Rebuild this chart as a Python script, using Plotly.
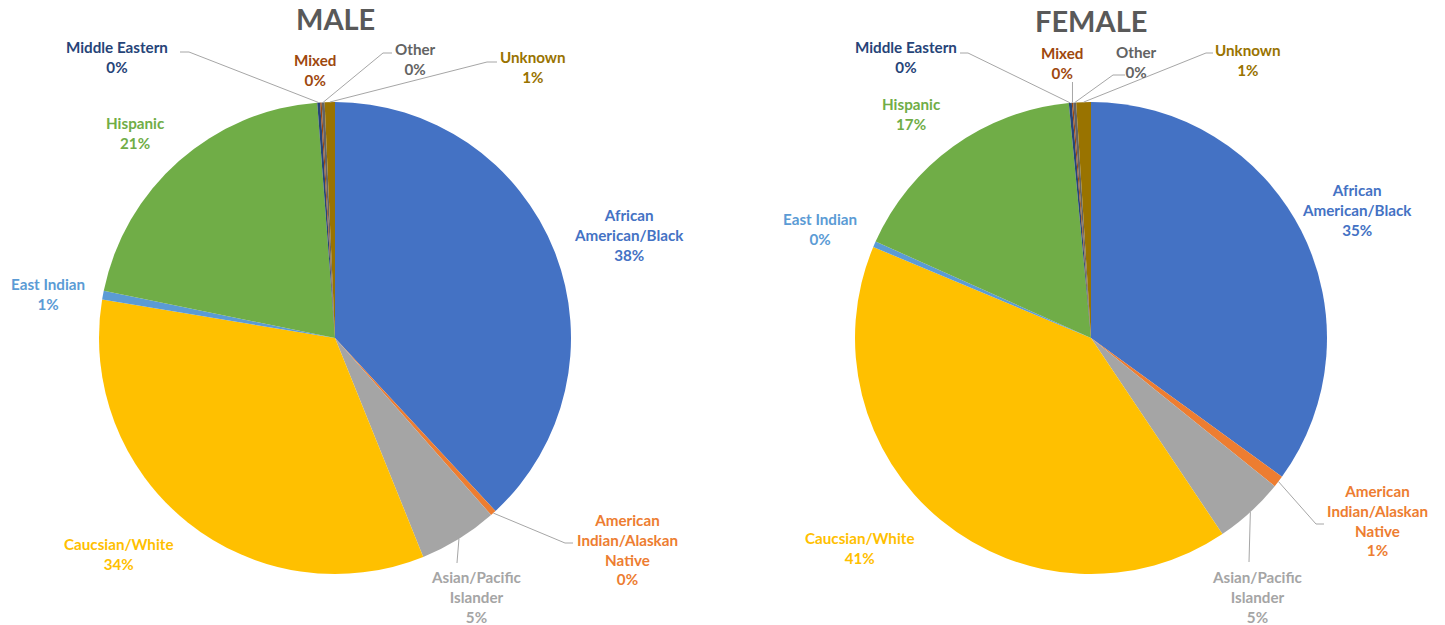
import math
import plotly.graph_objects as go

# ---------------- data ----------------
categories = [
    "African American/Black",
    "American Indian/Alaskan Native",
    "Asian/Pacific Islander",
    "Caucsian/White",
    "East Indian",
    "Hispanic",
    "Middle Eastern",
    "Mixed",
    "Other",
    "Unknown",
]
label_lines = [
    "African<br>American/Black",
    "American<br>Indian/Alaskan<br>Native",
    "Asian/Pacific<br>Islander",
    "Caucsian/White",
    "East Indian",
    "Hispanic",
    "Middle Eastern",
    "Mixed",
    "Other",
    "Unknown",
]
male_values = [38.1, 0.4, 5.4, 33.7, 0.6, 20.6, 0.2, 0.1, 0.2, 0.7]
female_values = [35.0, 0.8, 4.8, 40.7, 0.4, 16.8, 0.2, 0.1, 0.2, 1.0]
chart_titles = ["MALE", "FEMALE"]

# ---------------- style / layout ----------------
colors = ["#4472C4", "#ED7D31", "#A5A5A5", "#FFC000", "#5B9BD5",
          "#70AD47", "#264478", "#9E480E", "#636363", "#997300"]
W, H = 1445, 625
FONT = "Lato, Carlito, Calibri, sans-serif"
LEADER = "#A6A6A6"

pie_geom = [dict(cx=335, cy=338, r=236, ty=19),
            dict(cx=1091, cy=338, r=236, ty=20)]

# label text centres (pixels)
label_pos = [
    {0: (629, 235), 1: (627, 549), 2: (476, 597), 3: (119, 554), 4: (48, 294),
     5: (135, 133), 6: (117, 57), 7: (315, 70), 8: (415, 59), 9: (533, 67)},
    {0: (1357, 210), 1: (1377, 520), 2: (1257, 597), 3: (860, 548), 4: (820, 229),
     5: (911, 114), 6: (906, 57), 7: (1062, 63), 8: (1136, 62), 9: (1248, 60)},
]
# leader line points after the slice point: elbow, end (pixels)
leaders = [
    {1: [(565, 543), (573, 543)], 2: [(457, 563)], 6: [(189, 52), (180, 52)],
     8: [(383, 53), (392, 53)], 9: [(487, 62), (497, 62)]},
    {1: [(1316, 524), (1324, 524)], 2: [(1249, 562)], 6: [(968, 53), (960, 53)],
     7: [(None, 82)], 8: [(1113, 75), (1125, 75)], 9: [(1206, 53), (1213, 53)]},
]


def px(x):
    return x / W


def py(y):
    return 1 - y / H


fig = go.Figure()
annotations = []
shapes = []

for k, values in enumerate([male_values, female_values]):
    g = pie_geom[k]
    cx, cy, r = g["cx"], g["cy"], g["r"]
    fig.add_trace(go.Pie(
        labels=categories,
        values=values,
        sort=False,
        direction="clockwise",
        rotation=0,
        textinfo="none",
        hoverinfo="label+percent",
        marker=dict(colors=colors, line=dict(width=0)),
        domain=dict(x=[px(cx - r), px(cx + r)], y=[py(cy + r), py(cy - r)]),
        showlegend=False,
    ))
    total = sum(values)
    cum = 0.0
    for i, v in enumerate(values):
        theta = 2 * math.pi * (cum + v / 2) / total
        cum += v
        sx = cx + r * math.sin(theta)
        sy = cy - r * math.cos(theta)
        pct = round(v / total * 100)
        tx, ty = label_pos[k][i]
        annotations.append(dict(
            x=px(tx), y=py(ty), xref="paper", yref="paper",
            text=f"{label_lines[i]}<br>{pct}%", showarrow=False,
            xanchor="center", yanchor="middle", align="center",
            font=dict(family=FONT, size=15.2, color=colors[i], weight="bold"),
        ))
        if i in leaders[k]:
            pts = [(sx, sy)]
            for (lx, ly) in leaders[k][i]:
                pts.append((sx if lx is None else lx, ly))
            path = "M " + " L ".join(f"{px(a):.5f},{py(b):.5f}" for a, b in pts)
            shapes.append(dict(type="path", path=path, xref="paper", yref="paper",
                               line=dict(color=LEADER, width=1)))
    annotations.append(dict(
        x=px(cx), y=py(g["ty"]), xref="paper", yref="paper",
        text=chart_titles[k], showarrow=False, xanchor="center", yanchor="middle",
        font=dict(family=FONT, size=29, color="#595959", weight="bold"),
    ))

fig.update_layout(
    width=W, height=H,
    margin=dict(l=0, r=0, t=0, b=0),
    paper_bgcolor="white", plot_bgcolor="white",
    annotations=annotations,
    shapes=shapes,
)

fig.write_html("out.html")
